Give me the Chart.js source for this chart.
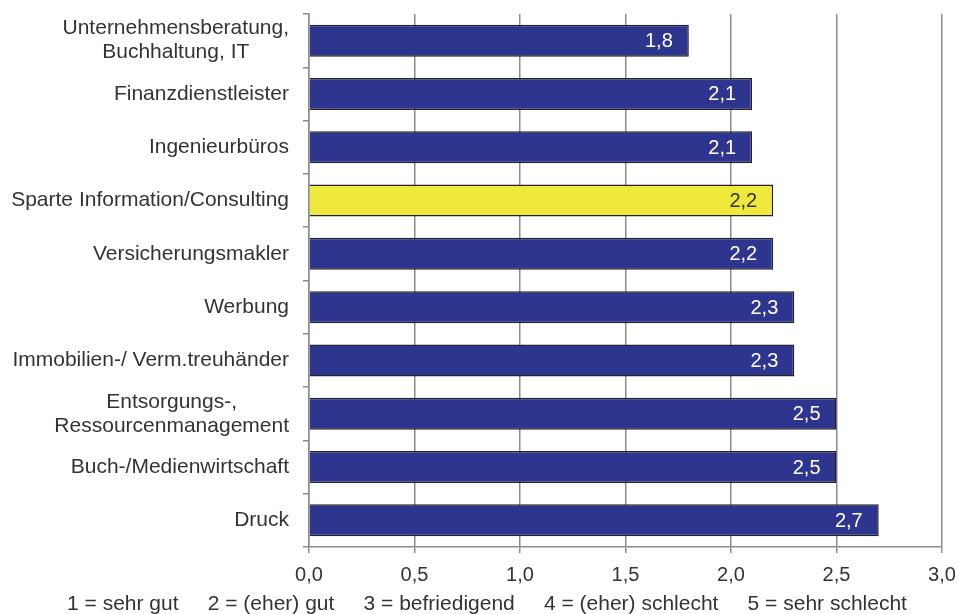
<!DOCTYPE html>
<html>
<head>
<meta charset="utf-8">
<script src="https://cdn.jsdelivr.net/npm/chart.js@4"></script>
<style>
  body { margin: 0; background: #fff; }
  #wrap { width: 958px; height: 614px; }
</style>
</head>
<body>
<div id="wrap"><canvas id="bar-chart" width="958" height="614"></canvas></div>
<script>
// data
var categories = [
    ['Unternehmensberatung,', 'Buchhaltung, IT'],
    ['Finanzdienstleister'],
    ['Ingenieurbüros'],
    ['Sparte Information/Consulting'],
    ['Versicherungsmakler'],
    ['Werbung'],
    ['Immobilien-/ Verm.treuhänder'],
    ['Entsorgungs-,', 'Ressourcenmanagement'],
    ['Buch-/Medienwirtschaft'],
    ['Druck']
];
var values = [1.8, 2.1, 2.1, 2.2, 2.2, 2.3, 2.3, 2.5, 2.5, 2.7];
var highlighted = [false, false, false, true, false, false, false, false, false, false];
var xTicks = [0, 0.5, 1, 1.5, 2, 2.5, 3];
var footnote = '1 = sehr gut     2 = (eher) gut     3 = befriedigend     4 = (eher) schlecht     5 = sehr schlecht';

var FONT = '"Liberation Sans", Arial, sans-serif';
var NAVY = '#2e358e';
var YELLOW = '#efe93c';
var GRID = '#8c8c8c';
var TEXT = '#333333';

function fmt(v) {
    return v.toFixed(1).replace('.', ',');
}

// draws the category labels, value labels and the footnote
var textPlugin = {
    id: 'textPlugin',
    afterDatasetsDraw: function(chart) {
        var c = chart.ctx;
        var yScale = chart.scales.y;
        var meta = chart.getDatasetMeta(0);
        c.save();
        c.font = '21px ' + FONT;
        c.textBaseline = 'middle';

        // category labels, lines centred on each other, block right-aligned
        var rightEdge = 289;
        var lineH = 24;
        categories.forEach(function(lines, i) {
            var y = yScale.getPixelForValue(i);
            var maxW = 0;
            lines.forEach(function(l) { maxW = Math.max(maxW, c.measureText(l).width); });
            var cx = rightEdge - maxW / 2;
            c.fillStyle = TEXT;
            c.textAlign = 'center';
            lines.forEach(function(l, k) {
                var ly = y + (k - (lines.length - 1) / 2) * lineH;
                c.fillText(l, cx, ly);
            });
        });

        // value labels inside the bar ends
        c.font = '20px ' + FONT;
        c.textAlign = 'right';
        meta.data.forEach(function(bar, i) {
            c.fillStyle = highlighted[i] ? TEXT : '#ffffff';
            c.fillText(fmt(values[i]), bar.x - 16, bar.y + 1);
        });

        // footnote
        c.fillStyle = TEXT;
        c.font = '21px ' + FONT;
        c.textAlign = 'center';
        c.textBaseline = 'alphabetic';
        c.fillText(footnote, 487, 610);
        c.restore();
    }
};

var ctx = document.getElementById('bar-chart').getContext('2d');
var myChart = new Chart(ctx, {
    type: 'bar',
    data: {
        labels: categories.map(function(l) { return l.join(' '); }),
        datasets: [{
            data: values,
            backgroundColor: highlighted.map(function(h) { return h ? YELLOW : NAVY; }),
            borderColor: '#222222',
            borderWidth: 1.5,
            borderSkipped: 'start',
            categoryPercentage: 1,
            barPercentage: 0.6
        }]
    },
    options: {
        indexAxis: 'y',
        responsive: false,
        animation: false,
        layout: { padding: { top: 14, right: 16, bottom: 0, left: 0 } },
        plugins: {
            legend: { display: false },
            tooltip: { enabled: false }
        },
        scales: {
            x: {
                min: 0,
                max: 3,
                afterBuildTicks: function(scale) {
                    scale.ticks = xTicks.map(function(v) { return { value: v }; });
                },
                afterFit: function(scale) {
                    scale.height = 67;
                    scale.paddingLeft = 0;
                    scale.paddingRight = 0;
                },
                border: { display: true, color: GRID, width: 1.5 },
                grid: { color: GRID, lineWidth: 1.5, tickLength: 6, tickColor: GRID },
                ticks: {
                    color: TEXT,
                    font: { family: FONT, size: 20 },
                    padding: 10,
                    callback: function(v) { return fmt(v); }
                }
            },
            y: {
                afterFit: function(scale) { scale.width = 309; },
                border: { display: true, color: GRID, width: 1.5 },
                grid: { drawOnChartArea: false, tickLength: 6, color: GRID, lineWidth: 1.5, offset: true },
                ticks: {
                    callback: function() { return ''; }
                }
            }
        }
    },
    plugins: [textPlugin]
});
</script>
</body>
</html>
